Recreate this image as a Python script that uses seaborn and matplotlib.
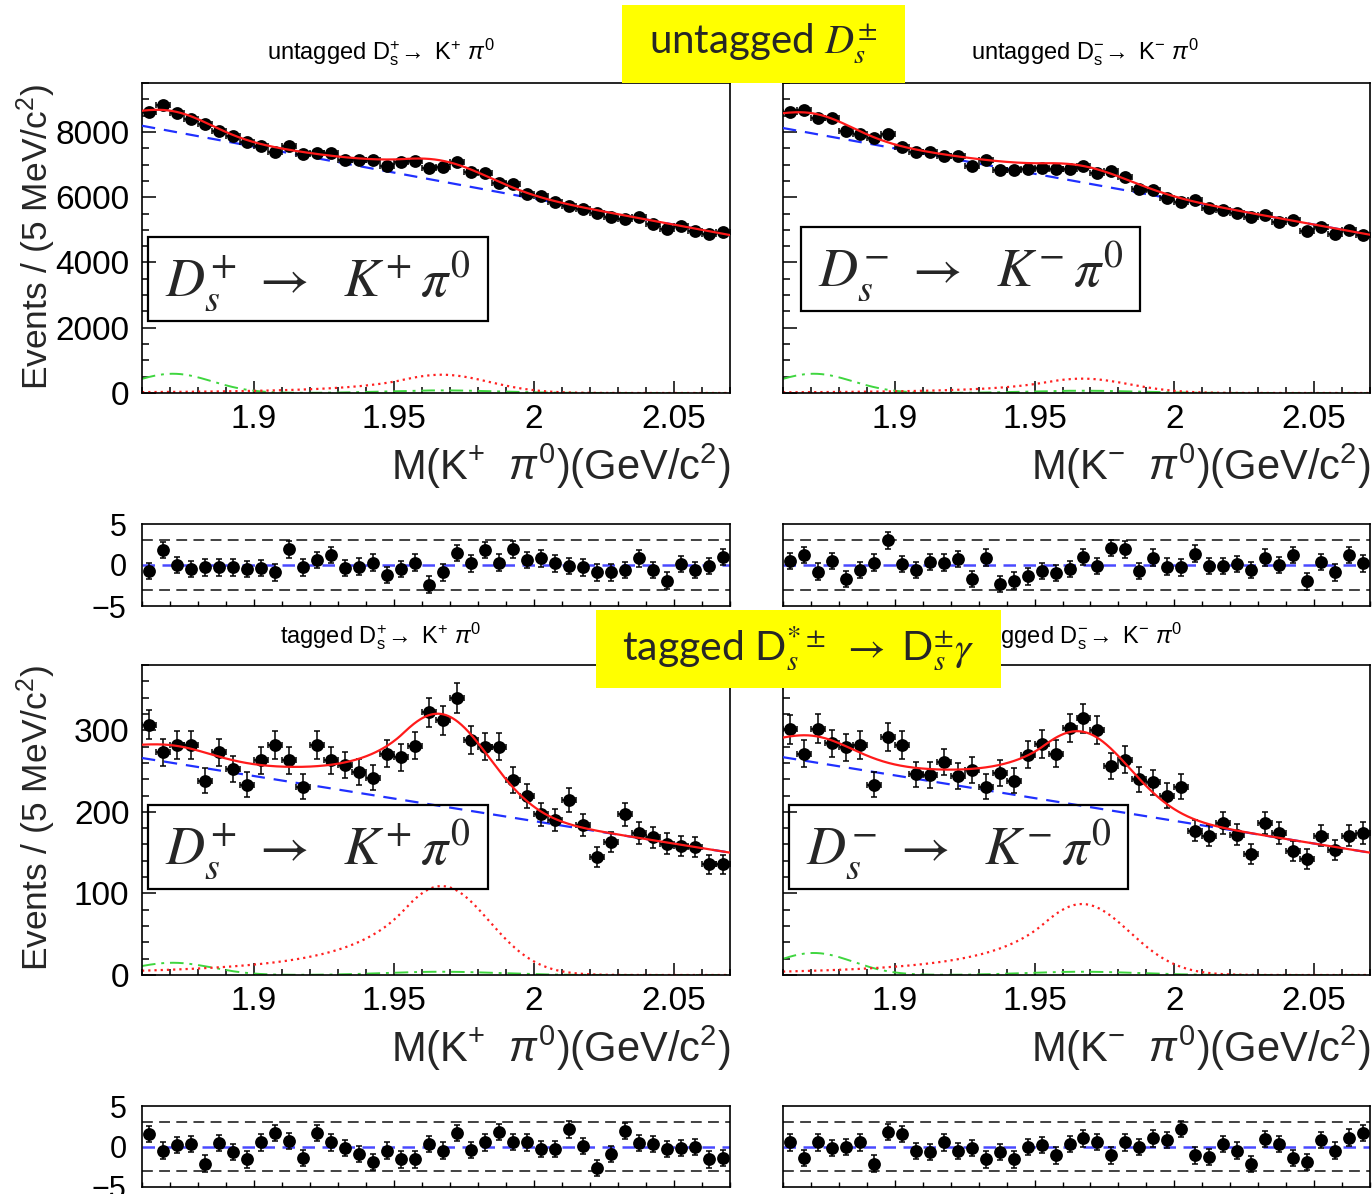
import numpy as np
import matplotlib
matplotlib.use("Agg")
import matplotlib.pyplot as plt
from matplotlib.patches import Rectangle
from matplotlib.ticker import MultipleLocator, FuncFormatter
import seaborn as sns

W, H = 1372, 1194

# ---- binning: 5 MeV/c^2 bins over the K pi0 invariant-mass window ----
mass_lo, mass_hi, bin_width = 1.86, 2.07, 0.005
mass = np.round(mass_lo + bin_width / 2 + bin_width * np.arange(42), 4)

# ---- event counts per bin ----
untag_p_counts = [8600, 8825, 8580, 8400, 8245, 8040, 7890, 7705, 7560, 7400,
                  7560, 7310, 7350, 7350, 7155, 7125, 7125, 6970, 7075, 7105,
                  6900, 6940, 7075, 6770, 6740, 6430, 6410, 6105, 6025, 5850,
                  5730, 5650, 5525, 5395, 5345, 5395, 5190, 5020, 5120, 4965,
                  4885, 4935]
untag_m_counts = [8600, 8670, 8425, 8415, 8020, 7940, 7815, 7940, 7530, 7380,
                  7380, 7275, 7255, 6970, 7155, 6840, 6840, 6870, 6900, 6870,
                  6870, 6970, 6740, 6800, 6615, 6260, 6230, 5985, 5850, 5925,
                  5670, 5600, 5525, 5395, 5445, 5240, 5295, 4965, 5090, 4885,
                  4985, 4835]
tag_p_counts = [307, 273, 282, 282, 238, 273, 252, 233, 263, 282,
                263, 231, 282, 263, 257, 249, 242, 271, 267, 281,
                322, 312, 340, 288, 280, 280, 239, 219, 197, 190,
                215, 184, 145, 163, 197, 174, 169, 161, 158, 157,
                136, 136]
tag_m_counts = [301, 271, 302, 284, 279, 282, 233, 292, 282, 246,
                245, 261, 244, 251, 231, 248, 238, 270, 283, 271,
                303, 315, 300, 256, 264, 240, 236, 220, 231, 177,
                171, 186, 172, 148, 186, 174, 152, 142, 171, 153,
                171, 174]

# ---- fit pulls per bin ----
pull_untag_p = [-0.7, 1.8, 0.0, -0.5, -0.3, -0.3, -0.3, -0.5, -0.4, -0.9,
                1.9, -0.3, 0.6, 1.2, -0.4, -0.2, 0.3, -1.2, -0.5, 0.3,
                -2.4, -0.9, 1.5, 0.2, 1.8, 0.3, 1.9, 0.6, 0.8, 0.2,
                -0.1, -0.3, -0.9, -0.9, -0.6, 0.8, -0.6, -1.9, 0.1, -0.6,
                -0.1, 1.0]
pull_untag_m = [0.5, 1.2, -0.8, 0.5, -1.7, -0.6, 0.3, 3.0, 0.1, -0.6,
                0.4, 0.3, 0.7, -1.7, 0.9, -2.3, -1.9, -1.4, -0.7, -1.0,
                -0.5, 1.0, -0.1, 2.1, 1.9, -0.7, 0.9, -0.2, -0.3, 1.4,
                -0.1, -0.1, 0.1, -0.6, 0.9, 0.0, 1.2, -2.0, 0.4, -0.9,
                1.2, 0.2]
pull_tag_p = [1.5, -0.5, 0.2, 0.3, -2.1, 0.4, -0.7, -1.6, 0.5, 1.7,
              0.7, -1.4, 1.7, 0.5, -0.2, -0.9, -1.9, -0.5, -1.6, -1.6,
              0.3, -0.5, 1.7, -0.4, 0.5, 1.8, 0.6, 0.5, -0.3, -0.3,
              2.1, 0.1, -2.7, -0.9, 1.9, 0.4, 0.3, -0.3, -0.2, -0.1,
              -1.6, -1.4]
pull_tag_m = [0.5, -1.4, 0.5, -0.2, -0.1, 0.5, -2.1, 1.8, 1.5, -0.6,
              -0.7, 0.5, -0.6, -0.2, -1.6, -0.7, -1.6, -0.1, 0.2, -1.1,
              0.3, 1.0, 0.6, -1.1, 0.5, -0.1, 1.0, 0.8, 2.2, -1.1,
              -1.3, 0.3, -0.5, -2.2, 0.9, 0.3, -1.4, -1.9, 0.8, -0.5,
              1.1, 1.7]

# ---- fit components (panel order: untagged +, untagged -, tagged +, tagged -) ----
bkg_at_lo = [8190, 8120, 266, 267]      # linear background at 1.86
bkg_at_hi = [4840, 4850, 150, 150]      # linear background at 2.07
sig_peak = [560, 440, 109, 87]          # signal peak height
sig_mean, sig_sigma, cb_alpha, cb_n = 1.967, 0.017, 0.8, 3.0
pk_amp = [590, 590, 15, 27]             # peaking background near 1.87
pk_mean, pk_sigma = 1.871, 0.014
bump_amp = [80, 70, 4, 4]               # small peaking piece under the signal
bump_sigma = 0.02

panel_titles = [r"untagged D$_{\mathrm{s}}^{+}$$\!\rightarrow$ K$^{+}$ $\pi^{0}$",
                r"untagged D$_{\mathrm{s}}^{-}$$\!\rightarrow$ K$^{-}$ $\pi^{0}$",
                r"tagged D$_{\mathrm{s}}^{+}$$\!\rightarrow$ K$^{+}$ $\pi^{0}$",
                r"tagged D$_{\mathrm{s}}^{-}$$\!\rightarrow$ K$^{-}$ $\pi^{0}$"]
xlabels = [r"M(K$^{+}\ \ \pi^{0}$)(GeV/c$^{2}$)", r"M(K$^{-}\ \ \pi^{0}$)(GeV/c$^{2}$)"]
ylabel = r"Events / (5 MeV/c$^{2}$)"
decay_labels = [r"$D_s^{+}\ \rightarrow\ \ K^{+}\,\pi^{0}$",
                r"$D_s^{-}\ \rightarrow\ \ K^{-}\,\pi^{0}$"]

sns.set_theme(style="ticks")
plt.rcParams.update({
    "font.family": ["Liberation Sans", "DejaVu Sans"],
    "mathtext.fontset": "custom",
    "mathtext.rm": "Liberation Sans",
    "mathtext.it": "Liberation Sans:italic",
    "mathtext.bf": "Liberation Sans:bold",
    "mathtext.sf": "Liberation Sans",
    "axes.edgecolor": "black",
    "axes.linewidth": 1.2,
    "axes.facecolor": "white",
    "figure.facecolor": "white",
})


def gauss(x, mu, s):
    return np.exp(-0.5 * ((x - mu) / s) ** 2)


def crystal_ball(x, mu, s, alpha, n):
    t = (x - mu) / s
    a = (n / alpha) ** n * np.exp(-alpha ** 2 / 2)
    b = n / alpha - alpha
    out = np.exp(-t ** 2 / 2)
    tail = t < -alpha
    out[tail] = a * (b - t[tail]) ** (-n)
    return out


def px_rect(x0, y0, x1, y1):
    return [x0 / W, 1 - y1 / H, (x1 - x0) / W, (y1 - y0) / H]


def style_xaxis(ax, labels):
    ax.set_xlim(mass_lo, mass_hi)
    ax.xaxis.set_major_locator(MultipleLocator(0.05))
    ax.xaxis.set_minor_locator(MultipleLocator(0.01))
    ax.xaxis.set_major_formatter(FuncFormatter(lambda v, p: f"{v:g}"))
    if not labels:
        ax.tick_params(axis="x", labelbottom=False)


def draw_main(ax, counts, k, ymax, ymaj, ymin, ylabels):
    xs = np.linspace(mass_lo, mass_hi, 700)
    bkg = bkg_at_lo[k] + (bkg_at_hi[k] - bkg_at_lo[k]) * (xs - mass_lo) / (mass_hi - mass_lo)
    sig = sig_peak[k] * crystal_ball(xs, sig_mean, sig_sigma, cb_alpha, cb_n)
    peaking = pk_amp[k] * gauss(xs, pk_mean, pk_sigma) + bump_amp[k] * gauss(xs, sig_mean, bump_sigma)
    total = bkg + sig + peaking

    sns.lineplot(x=xs, y=peaking, ax=ax, color="#3fd63f", lw=1.4,
                 linestyle=(0, (7, 3, 1.5, 3)), errorbar=None, zorder=2)
    sns.lineplot(x=xs, y=sig, ax=ax, color="#ff2020", lw=1.6,
                 linestyle=(0, (1, 1.8)), errorbar=None, zorder=2)
    sns.lineplot(x=xs, y=bkg, ax=ax, color="#2030ff", lw=1.6,
                 linestyle=(0, (6, 4)), errorbar=None, zorder=3)
    c = np.asarray(counts, dtype=float)
    ax.errorbar(mass, c, xerr=bin_width / 2, yerr=np.sqrt(c), fmt="none",
                ecolor="black", elinewidth=1.1, capsize=2.5, capthick=1.1, zorder=4)
    sns.scatterplot(x=mass, y=c, ax=ax, color="black", s=85, edgecolor="black",
                    linewidth=0, zorder=5, legend=False)
    sns.lineplot(x=xs, y=total, ax=ax, color="#ff1a1a", lw=1.6, errorbar=None, zorder=6)

    style_xaxis(ax, True)
    ax.set_ylim(0, ymax)
    ax.yaxis.set_major_locator(MultipleLocator(ymaj))
    ax.yaxis.set_minor_locator(MultipleLocator(ymin))
    ax.tick_params(axis="both", which="both", direction="in", top=False, right=False,
                   colors="black", labelsize=24, width=1.1)
    ax.tick_params(axis="y", which="major", length=10, pad=9, labelleft=ylabels)
    ax.tick_params(axis="y", which="minor", length=5)
    ax.tick_params(axis="x", which="major", length=9, pad=8)
    ax.tick_params(axis="x", which="minor", length=4.5)
    ax.set_xlabel("")
    ax.set_ylabel("")
    for sp in ax.spines.values():
        sp.set_color("black")
        sp.set_linewidth(1.2)


def draw_pull(ax, pulls, ylabels):
    p = np.asarray(pulls, dtype=float)
    ax.axhline(0, color="#4a4aff", lw=1.8, linestyle=(0, (5, 3)), zorder=1)
    for lvl in (-3, 3):
        ax.axhline(lvl, color="#333333", lw=1.3, linestyle=(0, (6, 3.5)), zorder=1)
    ax.errorbar(mass, p, yerr=np.ones_like(p), fmt="none", ecolor="black",
                elinewidth=1.1, capsize=2.5, capthick=1.1, zorder=3)
    sns.scatterplot(x=mass, y=p, ax=ax, color="black", s=85, linewidth=0,
                    zorder=4, legend=False)
    style_xaxis(ax, False)
    ax.set_ylim(-5, 5)
    ax.set_yticks([-5, 0, 5])
    ax.tick_params(axis="both", which="both", direction="in", top=False, right=False,
                   colors="black", labelsize=22, width=1.0)
    ax.tick_params(axis="y", length=0, pad=11, labelleft=ylabels)
    ax.tick_params(axis="x", which="major", length=5)
    ax.tick_params(axis="x", which="minor", length=3.5)
    ax.set_xlabel("")
    ax.set_ylabel("")
    for sp in ax.spines.values():
        sp.set_color("black")
        sp.set_linewidth(1.2)


fig = plt.figure(figsize=(W / 100, H / 100), dpi=100)

main_boxes = [(142, 83, 730, 393), (783, 83, 1370, 393),
              (142, 665, 730, 975), (783, 665, 1370, 975)]
pull_boxes = [(142, 524, 730, 606), (783, 524, 1370, 606),
              (142, 1106, 730, 1187), (783, 1106, 1370, 1187)]
all_counts = [untag_p_counts, untag_m_counts, tag_p_counts, tag_m_counts]
all_pulls = [pull_untag_p, pull_untag_m, pull_tag_p, pull_tag_m]

for k in range(4):
    ax = fig.add_axes(px_rect(*main_boxes[k]))
    if k < 2:
        draw_main(ax, all_counts[k], k, 9500, 2000, 500, k % 2 == 0)
    else:
        draw_main(ax, all_counts[k], k, 380, 100, 20, k % 2 == 0)
    axp = fig.add_axes(px_rect(*pull_boxes[k]))
    draw_pull(axp, all_pulls[k], k % 2 == 0)


def ftext(x, y, s, **kw):
    return fig.text(x / W, 1 - y / H, s, **kw)


# panel titles
title_pos = [(381, 52), (1085, 52), (381, 636), (1082, 636)]
for k in range(4):
    ftext(*title_pos[k], panel_titles[k], ha="center", va="center", fontsize=17, color="black")

# axis labels
for yc in (466, 1048):
    ftext(730, yc, xlabels[0], ha="right", va="center", fontsize=30)
    ftext(1370, yc, xlabels[1], ha="right", va="center", fontsize=30)
for yc in (237, 818):
    ftext(36, yc, ylabel, ha="center", va="center", rotation=90, fontsize=25.5)

# boxed decay labels
label_boxes = [(148, 237, 488, 321, 0), (801, 227, 1140, 311, 1),
               (148, 805, 488, 889, 0), (789, 805, 1128, 889, 1)]
for x0, y0, x1, y1, j in label_boxes:
    fig.add_artist(Rectangle((x0 / W, 1 - y1 / H), (x1 - x0) / W, (y1 - y0) / H,
                             transform=fig.transFigure, facecolor="none",
                             edgecolor="black", lw=1.6, zorder=8))
    ftext((x0 + x1) / 2, (y0 + y1) / 2 + 2, decay_labels[j], ha="center", va="center",
          fontsize=39, math_fontfamily="stix", zorder=9)

# highlighted headers
headers = [((622, 5, 905, 83), r"untagged $D_s^{\pm}$", 29),
           ((596, 610, 1001, 688), r"tagged D$_s^{*\pm}$ $\rightarrow$ D$_s^{\pm}\gamma$", 29.5)]
for (x0, y0, x1, y1), txt, fs in headers:
    fig.add_artist(Rectangle((x0 / W, 1 - y1 / H), (x1 - x0) / W, (y1 - y0) / H,
                             transform=fig.transFigure, facecolor="#ffff00",
                             edgecolor="none", zorder=20))
    ftext((x0 + x1) / 2, (y0 + y1) / 2, txt, ha="center", va="center", fontsize=fs,
          family=["Lato", "DejaVu Sans"], math_fontfamily="stix", zorder=21)

fig.savefig("out.png", dpi=100)
